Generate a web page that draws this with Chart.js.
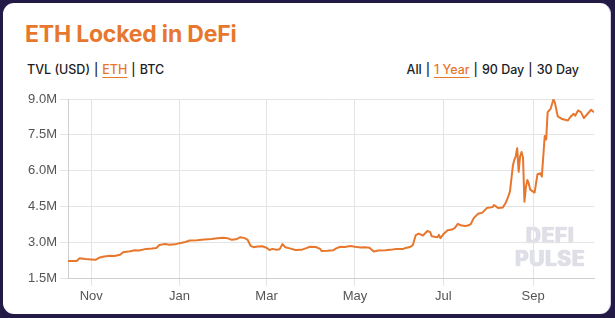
<!DOCTYPE html>
<html>
<head>
<meta charset="utf-8">
<script src="https://cdn.jsdelivr.net/npm/chart.js@4.4.0/dist/chart.umd.min.js"></script>
<style>
  html, body { margin: 0; padding: 0; background: #241a46; width: 615px; height: 318px; overflow: hidden; }
  .card { position: absolute; left: 3px; top: 3px; width: 607px; height: 311px; background: #fff; border-radius: 11px; border-right: 1px solid #d9d2ea; }
  .title { position: absolute; left: 25px; top: 20px; font: 700 23px Inter, "Noto Sans", sans-serif; color: #e8772e; letter-spacing: -0.2px; white-space: nowrap; }
  .ctrl { position: absolute; top: 62px; font: 500 12.5px Inter, "Noto Sans", sans-serif; color: #1d1d1f; white-space: nowrap; }
  .ctrl .on { color: #e8772e; text-decoration: underline; text-underline-offset: 3px; }
  .ctrl .sep { margin: 0 4px; }
  .left { left: 27px; }
  .right { right: 36px; }
  .mark { position: absolute; left: 510px; top: 224px; width: 80px; text-align: center; font: 800 21px/23px Inter, "Noto Sans", sans-serif; color: #e0dfe7; text-shadow: 0 0 1px #c2c1cd; letter-spacing: 0.5px; }
  canvas { position: absolute; left: 0; top: 0; }
</style>
</head>
<body>
<div class="card"></div>
<div class="title">ETH Locked in DeFi</div>
<div class="ctrl left">TVL (USD)<span class="sep">|</span><span class="on">ETH</span><span class="sep">|</span>BTC</div>
<div class="ctrl right">All<span class="sep">|</span><span class="on">1 Year</span><span class="sep">|</span>90 Day<span class="sep">|</span>30 Day</div>
<div class="mark">DEFI<br>PULSE</div>
<canvas id="ethChart" width="615" height="318"></canvas>
<script>
// ETH locked, millions
const dates = [
  '2019-10-16','2019-10-22','2019-10-24','2019-10-28','2019-11-01','2019-11-04','2019-11-07','2019-11-10',
  '2019-11-14','2019-11-17','2019-11-21','2019-11-23','2019-11-28','2019-12-01','2019-12-04','2019-12-09',
  '2019-12-13','2019-12-16','2019-12-18','2019-12-22','2019-12-25','2019-12-29','2020-01-01','2020-01-05',
  '2020-01-08','2020-01-13','2020-01-18','2020-01-23','2020-01-27','2020-01-31','2020-02-03','2020-02-06',
  '2020-02-09','2020-02-12','2020-02-15','2020-02-17','2020-02-19','2020-02-21','2020-02-24','2020-02-27',
  '2020-03-01','2020-03-03','2020-03-05','2020-03-08','2020-03-10','2020-03-12','2020-03-14','2020-03-17',
  '2020-03-21','2020-03-25','2020-03-28','2020-03-31','2020-04-04','2020-04-07','2020-04-08','2020-04-12',
  '2020-04-16','2020-04-18','2020-04-21','2020-04-24','2020-04-28','2020-05-01','2020-05-05','2020-05-08',
  '2020-05-11','2020-05-14','2020-05-17','2020-05-22','2020-05-27','2020-05-30','2020-06-03','2020-06-05',
  '2020-06-08','2020-06-10','2020-06-12','2020-06-14','2020-06-17','2020-06-20','2020-06-22','2020-06-23',
  '2020-06-26','2020-06-27','2020-06-28','2020-06-29','2020-07-01','2020-07-04','2020-07-07','2020-07-09',
  '2020-07-11','2020-07-13','2020-07-16','2020-07-18','2020-07-20','2020-07-22','2020-07-25','2020-07-28',
  '2020-07-31','2020-08-04','2020-08-05','2020-08-08','2020-08-11','2020-08-13','2020-08-14','2020-08-16',
  '2020-08-18','2020-08-19','2020-08-20','2020-08-21','2020-08-22','2020-08-23','2020-08-24','2020-08-25',
  '2020-08-26','2020-08-27','2020-08-28','2020-08-29','2020-08-30','2020-09-01','2020-09-02','2020-09-04',
  '2020-09-06','2020-09-07','2020-09-09','2020-09-10','2020-09-11','2020-09-13','2020-09-15','2020-09-16',
  '2020-09-18','2020-09-21','2020-09-23','2020-09-25','2020-09-27','2020-09-29','2020-09-30','2020-10-02',
  '2020-10-04','2020-10-06','2020-10-08','2020-10-11','2020-10-13'
];
const ethLocked = [
  2.21, 2.21, 2.33, 2.30, 2.28, 2.26, 2.36, 2.40,
  2.43, 2.42, 2.47, 2.58, 2.62, 2.66, 2.65, 2.72,
  2.74, 2.76, 2.88, 2.92, 2.89, 2.91, 2.96, 3.01,
  3.07, 3.08, 3.11, 3.13, 3.17, 3.19, 3.17, 3.10,
  3.12, 3.21, 3.17, 3.10, 2.85, 2.79, 2.82, 2.83,
  2.77, 2.67, 2.72, 2.68, 2.70, 2.92, 2.79, 2.74,
  2.67, 2.68, 2.74, 2.81, 2.80, 2.72, 2.63, 2.64,
  2.66, 2.74, 2.81, 2.80, 2.84, 2.81, 2.78, 2.79,
  2.77, 2.61, 2.65, 2.66, 2.69, 2.72, 2.71, 2.76,
  2.80, 2.88, 3.30, 3.36, 3.28, 3.47, 3.42, 3.25,
  3.22, 3.21, 3.31, 3.17, 3.33, 3.50, 3.53, 3.60,
  3.77, 3.71, 3.68, 3.70, 3.76, 4.01, 4.19, 4.24,
  4.43, 4.47, 4.56, 4.43, 4.45, 4.64, 4.78, 5.12,
  6.20, 6.45, 6.60, 6.94, 5.95, 6.60, 6.78, 6.55,
  4.70, 5.30, 5.61, 5.45, 5.20, 5.12, 5.08, 5.85,
  5.89, 5.75, 7.45, 7.30, 8.45, 8.58, 8.98, 8.85,
  8.27, 8.16, 8.13, 8.10, 8.27, 8.38, 8.30, 8.52,
  8.45, 8.20, 8.34, 8.55, 8.44
];
const tickDates = ['2019-11-01', '2020-01-01', '2020-03-01', '2020-05-01', '2020-07-01', '2020-09-01'];
const tickLabels = ['Nov', 'Jan', 'Mar', 'May', 'Jul', 'Sep'];
const yTicks = [1.5, 3.0, 4.5, 6.0, 7.5, 9.0];

const DAY = 86400000;
const t0 = Date.parse(dates[0]);
const dayOf = s => Math.round((Date.parse(s) - t0) / DAY);
const points = dates.map((d, i) => ({ x: dayOf(d), y: ethLocked[i] }));
const tickDays = tickDates.map(dayOf);

const tickFont = { family: '"Liberation Sans", Arial, sans-serif', size: 13 };

new Chart(document.getElementById('ethChart').getContext('2d'), {
  type: 'line',
  data: {
    datasets: [{
      data: points,
      borderColor: '#e8772e',
      borderWidth: 2,
      pointRadius: 0,
      tension: 0,
      borderJoinStyle: 'round'
    }]
  },
  options: {
    responsive: false,
    animation: false,
    layout: { padding: { left: 8, right: 21, top: 99, bottom: 10 } },
    plugins: { legend: { display: false }, tooltip: { enabled: false } },
    scales: {
      x: {
        type: 'linear',
        min: 0,
        max: points[points.length - 1].x,
        afterBuildTicks: axis => { axis.ticks = tickDays.map(v => ({ value: v })); },
        afterFit: axis => { axis.height = 30; },
        ticks: {
          autoSkip: false,
          maxRotation: 0,
          color: '#555',
          font: tickFont,
          callback: (v, i) => tickLabels[i]
        },
        grid: { color: '#e4e4e4', tickLength: 8 },
        border: { color: '#cfcfcf' }
      },
      y: {
        min: yTicks[0],
        max: yTicks[yTicks.length - 1],
        afterBuildTicks: axis => { axis.ticks = yTicks.map(v => ({ value: v })); },
        afterFit: axis => { axis.width = 60; },
        ticks: {
          color: '#555',
          font: tickFont,
          callback: v => v.toFixed(1) + 'M'
        },
        grid: { color: '#e4e4e4', tickLength: 8 },
        border: { color: '#cfcfcf' }
      }
    }
  }
});
</script>
</body>
</html>
